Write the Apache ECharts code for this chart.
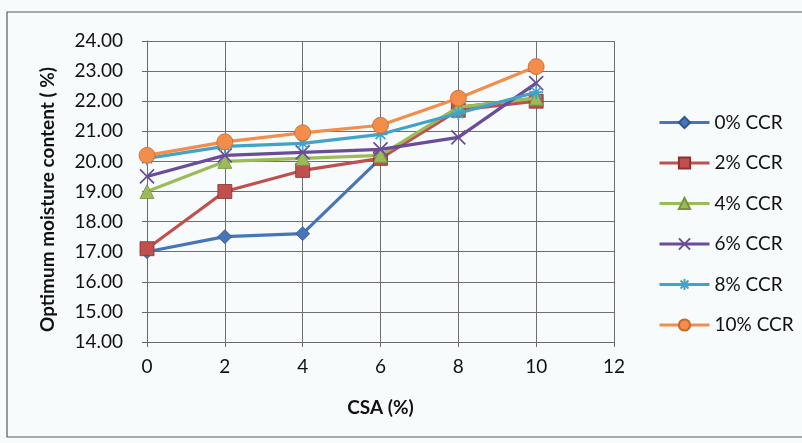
<!DOCTYPE html>
<html>
<head>
<meta charset="utf-8">
<script src="https://cdn.jsdelivr.net/npm/echarts@6/dist/echarts.min.js"></script>
<style>
html,body{margin:0;padding:0;background:#f7fbfc;}
#c{width:802px;height:443px;}
</style>
</head>
<body>
<div id="c"></div>
<script>
const xValues = [0, 2, 4, 6, 8, 10];
const seriesNames = ['0% CCR', '2% CCR', '4% CCR', '6% CCR', '8% CCR', '10% CCR'];
const ccr0  = [17.0, 17.5, 17.6, 20.1, 21.8, 22.1];
const ccr2  = [17.1, 19.0, 19.7, 20.1, 21.7, 22.0];
const ccr4  = [19.0, 20.0, 20.1, 20.2, 21.8, 22.1];
const ccr6  = [19.5, 20.2, 20.3, 20.4, 20.8, 22.6];
const ccr8  = [20.1, 20.5, 20.6, 20.9, 21.6, 22.3];
const ccr10 = [20.2, 20.65, 20.95, 21.2, 22.1, 23.15];
const yTickLabels = ['14.00','15.00','16.00','17.00','18.00','19.00','20.00','21.00','22.00','23.00','24.00'];
const xTickLabels = ['0','2','4','6','8','10','12'];
const xTitle = 'CSA (%)';
const yTitle = 'Optimum moisture content ( %)';

const allData = [ccr0, ccr2, ccr4, ccr6, ccr8, ccr10];
const colors = ['#4676b8', '#c0504d', '#9bbb59', '#6b4c9a', '#41a3c8', '#f38d4b'];
const borders = ['#2f568c', '#8c3230', '#76923c', '#4a3270', '#2c7a98', '#c56a2c'];
const symbols = [
  'diamond', 'rect', 'triangle',
  'path://M0,0L10,10M10,0L0,10',
  'path://M5,0L5,10M0,5L10,5M1.5,1.5L8.5,8.5M8.5,1.5L1.5,8.5',
  'circle'
];
const sizes = [14, 14, 14, 14, 14, 16];
const FONT = 'Lato';

const series = allData.map((d, i) => ({
  name: seriesNames[i],
  type: 'line',
  data: xValues.map((x, j) => [x, d[j]]),
  symbol: symbols[i],
  symbolSize: sizes[i],
  lineStyle: { color: colors[i], width: 3.2 },
  itemStyle: {
    color: colors[i],
    borderColor: (i === 3 || i === 4) ? colors[i] : borders[i],
    borderWidth: (i === 3 || i === 4) ? 1.7 : 0.8
  },
  emphasis: { disabled: true },
  animation: false,
  z: 2 + i
}));

const chart = echarts.init(document.getElementById('c'), null, { renderer: 'canvas' });
chart.setOption({
  backgroundColor: '#f7fbfc',
  animation: false,
  textStyle: { fontFamily: FONT },
  graphic: [{
    type: 'rect',
    shape: { x: 7, y: 12, width: 820, height: 425 },
    style: { fill: 'none', stroke: '#5a5a5a', lineWidth: 1.2 },
    silent: true
  }],
  grid: { left: 147, right: 188, top: 41, bottom: 101, containLabel: false },
  legend: {
    orient: 'vertical',
    left: 653,
    top: 108,
    itemWidth: 50,
    itemHeight: 14,
    itemGap: 21.5,
    data: seriesNames,
    lineStyle: { width: 3 },
    textStyle: { fontFamily: FONT, fontSize: 19, color: '#111' }
  },
  xAxis: {
    type: 'value',
    min: 0, max: 12, interval: 2,
    name: xTitle,
    nameLocation: 'middle',
    nameGap: 56,
    nameTextStyle: { fontFamily: FONT, fontSize: 19, fontWeight: 'bold', color: '#111' },
    axisLine: { show: true, lineStyle: { color: '#6a6a6a', width: 1 } },
    axisTick: { show: true, length: 5, lineStyle: { color: '#6a6a6a' } },
    axisLabel: { fontFamily: FONT, fontSize: 19, color: '#111', margin: 15,
      formatter: v => xTickLabels[Math.round(v / 2)] },
    splitLine: { show: true, lineStyle: { color: '#6f6f6f', width: 1 } }
  },
  yAxis: {
    type: 'value',
    min: 14, max: 24, interval: 1,
    name: yTitle,
    nameLocation: 'middle',
    nameGap: 90,
    nameRotate: 90,
    nameTextStyle: { fontFamily: FONT, fontSize: 19, fontWeight: 'bold', color: '#111', padding: [0, 16, 0, 0] },
    axisLine: { show: true, lineStyle: { color: '#6a6a6a', width: 1 } },
    axisTick: { show: true, length: 5, lineStyle: { color: '#6a6a6a' } },
    axisLabel: { fontFamily: FONT, fontSize: 19, color: '#111', margin: 24,
      formatter: v => yTickLabels[Math.round(v - 14)] },
    splitLine: { show: true, lineStyle: { color: '#6f6f6f', width: 1 } }
  },
  series: series
});
</script>
</body>
</html>
